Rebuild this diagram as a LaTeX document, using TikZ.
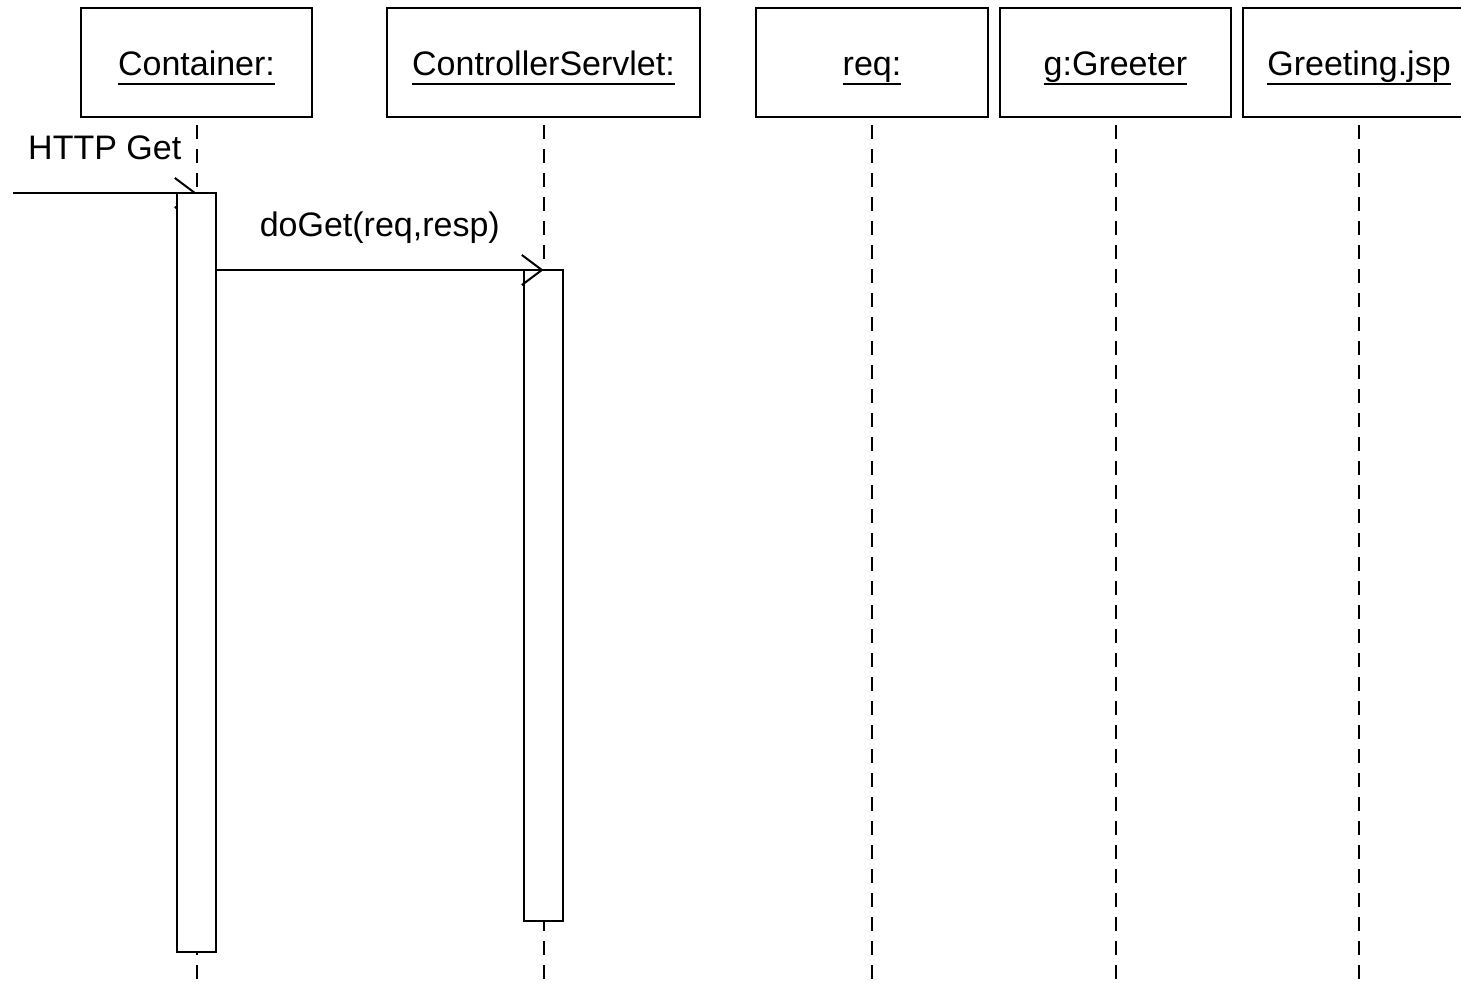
\documentclass[tikz,border=0pt]{standalone}
\usepackage{fontspec}
\setmainfont{Liberation Sans}
\usetikzlibrary{positioning,arrows.meta}
\newsavebox\namebox
\newcommand{\objname}[1]{\sbox\namebox{#1}\rlap{\rule[-4.5pt]{\wd\namebox}{0.9pt}}\usebox\namebox}
\tikzstyle{head} = [draw, rectangle, line width=1pt, outer sep=0pt, minimum height=54.5pt, minimum width=115.5pt, text height=13.5pt, text depth=0pt, font=\fontsize{17}{20}\selectfont]
\tikzstyle{activation} = [draw, rectangle, fill=white, line width=1pt, outer sep=0pt, minimum width=19.5pt]
\tikzstyle{lifeline} = [draw, line width=1pt, dash pattern=on 7pt off 5pt, dash phase=8pt]
\tikzstyle{message} = [draw, line width=1pt, -{Straight Barb[length=10pt,width=15pt]}]
\tikzstyle{msglabel} = [midway, anchor=base, yshift=16.5pt, inner sep=0pt, font=\fontsize{17}{20}\selectfont]
\pgfdeclarelayer{background}
\pgfsetlayers{background,main}

\begin{document}
\begin{tikzpicture}[x=0.5pt, y=-0.5pt]
    \useasboundingbox (0,0) rectangle (1461,983);
    \clip (0,0) rectangle (1461,983);

    % Place nodes
    \node [head] (container) at (196.5,62.5) {\objname{Container:}};
    \node [head, right=37.5pt of container, minimum width=156.5pt] (servlet) {\objname{ControllerServlet:}};
    \node [head, right=28pt of servlet, minimum width=116pt] (req) {\objname{req:}};
    \node [head, right=6pt of req] (greeter) {\objname{g:Greeter}};
    \node [head, right=6pt of greeter, minimum width=116pt] (jsp) {\objname{Greeting.jsp}};
    \node [activation, minimum height=379.5pt] (container-act) at (196.5,572.5) {};
    \node [activation, minimum height=325.5pt] (servlet-act) at (543.5,595.5) {};
    \coordinate (client) at (13,193);

    % Draw edges
    \begin{pgfonlayer}{background}
    \foreach \obj in {container,servlet,req,greeter,jsp}
        \path [lifeline] (\obj.south) -- (\obj.south |- 0,983);
    \path [message] (client) -- (container-act.north) node [msglabel] {HTTP Get};
    \end{pgfonlayer}
    \path [message] (container-act.east |- servlet-act.north) -- (servlet-act.north) node [msglabel] {doGet(req,resp)};
\end{tikzpicture}
\end{document}
